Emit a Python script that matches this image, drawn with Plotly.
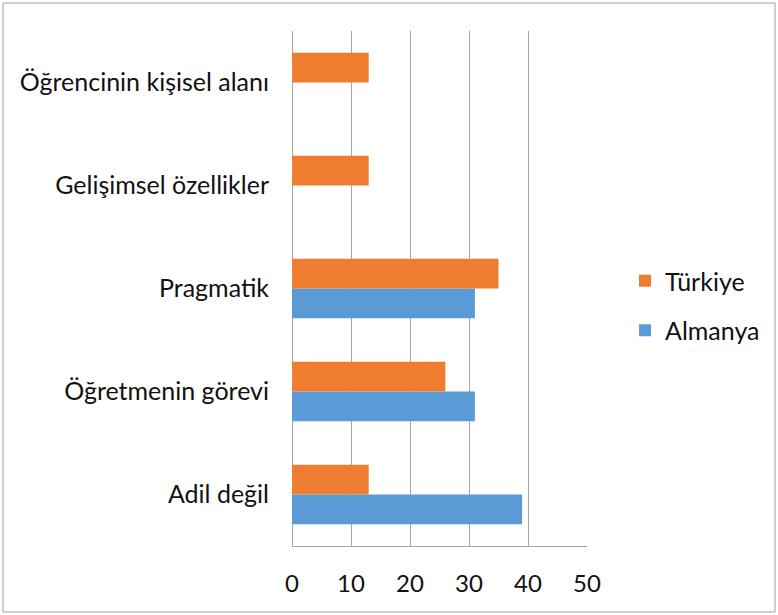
import plotly.graph_objects as go

categories = ["Adil değil", "Öğretmenin görevi", "Pragmatik", "Gelişimsel özellikler", "Öğrencinin kişisel alanı"]
almanya = [39, 31, 31, 0, 0]
turkiye = [13, 26, 35, 13, 13]
x_ticks = [0, 10, 20, 30, 40, 50]

FONT = "Lato"
W, H = 778, 615
L, R, T, B = 292, 191, 31, 69
pw, ph = W - L - R, H - T - B

def px_x(p):
    return (p - L) / pw

def px_y(p):
    return (H - B - p) / ph

fig = go.Figure()
fig.add_trace(go.Bar(y=categories, x=almanya, name="Almanya", orientation="h",
                     legendgroup="a", legendrank=2,
                     marker=dict(color="#5B9BD5", line=dict(width=0))))
fig.add_trace(go.Bar(y=categories, x=turkiye, name="Türkiye", orientation="h",
                     legendgroup="t", legendrank=1,
                     marker=dict(color="#EE7D31", line=dict(width=0))))

fig.update_layout(
    width=W, height=H,
    margin=dict(l=L, r=R, t=T, b=B, autoexpand=False),
    paper_bgcolor="white", plot_bgcolor="white",
    barmode="group", bargap=0.42, bargroupgap=0,
    font=dict(family=FONT, size=25, color="#111111"),
    legend=dict(x=px_x(625), y=px_y(258), xanchor="left", yanchor="top",
                traceorder="grouped", font=dict(size=25),
                tracegroupgap=14, bgcolor="rgba(0,0,0,0)"),
    xaxis=dict(range=[0, 50], tickvals=x_ticks, ticktext=[str(v) for v in x_ticks],
               tickfont=dict(size=24), automargin=False,
               showgrid=True, gridcolor="#A6A6A6", gridwidth=1,
               zeroline=True, zerolinecolor="#A6A6A6", zerolinewidth=1,
               showline=True, linecolor="#A6A6A6", linewidth=1,
               ticks="", ticklabelstandoff=16, fixedrange=True),
    yaxis=dict(categoryorder="array", categoryarray=categories,
               tickfont=dict(size=25), automargin=False,
               showgrid=False, showline=False, zeroline=False, ticks="",
               ticklabelstandoff=22, fixedrange=True),
    shapes=[dict(type="rect", xref="paper", yref="paper",
                 x0=px_x(3), x1=px_x(775), y0=px_y(612), y1=px_y(3),
                 line=dict(color="#A0A0A0", width=1), fillcolor="rgba(0,0,0,0)",
                 layer="below")],
)

fig.write_html("out.html", config={"displayModeBar": False},
               post_script="document.body.style.margin='0';document.body.style.overflow='hidden';")
